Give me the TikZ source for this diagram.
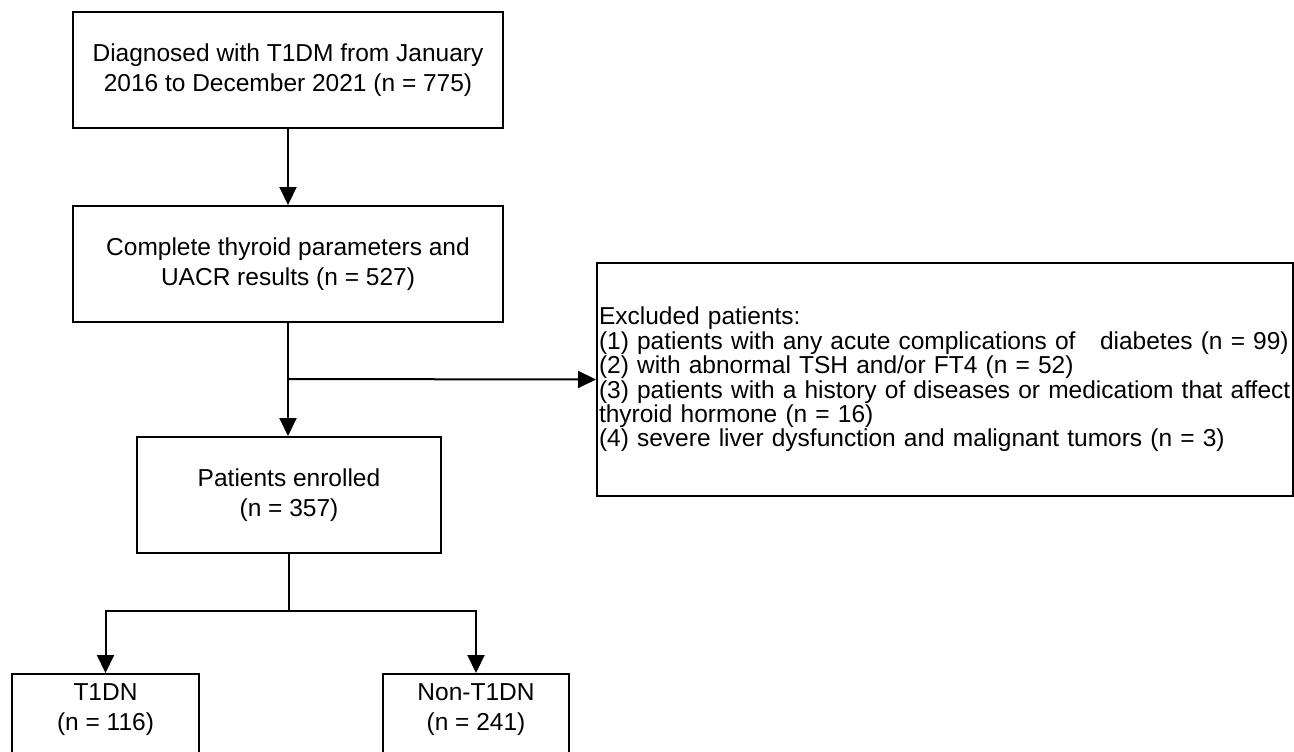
\documentclass[tikz,border=0pt]{standalone}
\usepackage{fontspec}
\setmainfont{Liberation Sans}
\usepackage{tikz}
\usetikzlibrary{shapes,arrows.meta,positioning}
\tikzstyle{box} = [rectangle, draw, line width=1pt, align=center, inner sep=0pt, font=\fontsize{12.25}{15}\selectfont]
\tikzstyle{plain} = [align=center, inner sep=0pt, font=\fontsize{12.25}{15}\selectfont]
\tikzstyle{line} = [draw, line width=1pt, -{Triangle[length=9pt, width=8.5pt]}]
\tikzstyle{link} = [draw, line width=1pt]

\begin{document}
\begin{tikzpicture}[x=0.5pt, y=-0.5pt]
			\clip (0,0) rectangle (1294,751);
			\node [box, minimum width=215pt, minimum height=58pt] (diag) at (288, 70) {Diagnosed with T1DM from January\\2016 to December 2021 (n = 775)};
			\node [box, minimum width=215pt, minimum height=58pt] (compl) at (288, 264) {Complete thyroid parameters and\\UACR results (n = 527)};
			\node [box, minimum width=348pt, minimum height=116.5pt, text width=346pt, align=left, font=\fontsize{12.25}{12.2}\selectfont] (excl) at (945, 379.5) {Excluded patients:\\(1) patients with any acute complications of \ \ diabetes (n = 99)\\(2) with abnormal TSH and/or FT4 (n = 52)\\(3) patients with a history of diseases or medicatiom that affect\\thyroid hormone (n = 16)\\(4) severe liver dysfunction and malignant tumors (n = 3)};
			\node [box, minimum width=152pt, minimum height=58pt] (enrol) at (289, 495) {Patients enrolled\\(n = 357)};
			\node [box, anchor=north, minimum width=93.5pt, minimum height=58pt] (t1dn) at (105.5, 673) {};
			\node [box, anchor=north, minimum width=93pt, minimum height=58pt] (nont1dn) at (476, 673) {};
			\node [plain, below=5pt of t1dn.north] (t1dntext) {T1DN\\(n = 116)};
			\node [plain, below=5pt of nont1dn.north] (nont1dntext) {Non-T1DN\\(n = 241)};
			\coordinate (split) at (288, 379);
			\coordinate (fork) at (289, 611);

			\path [line] (diag) -- (compl);
			\path [line] (compl.south -| split) -- (enrol.north -| split);
			\path [line] (split) -- (excl.west);
			\path [link] (enrol) -- (fork);
			\path [line] (fork) -| (t1dn.north);
			\path [line] (fork) -| (nont1dn.north);
		\end{tikzpicture}
\end{document}
